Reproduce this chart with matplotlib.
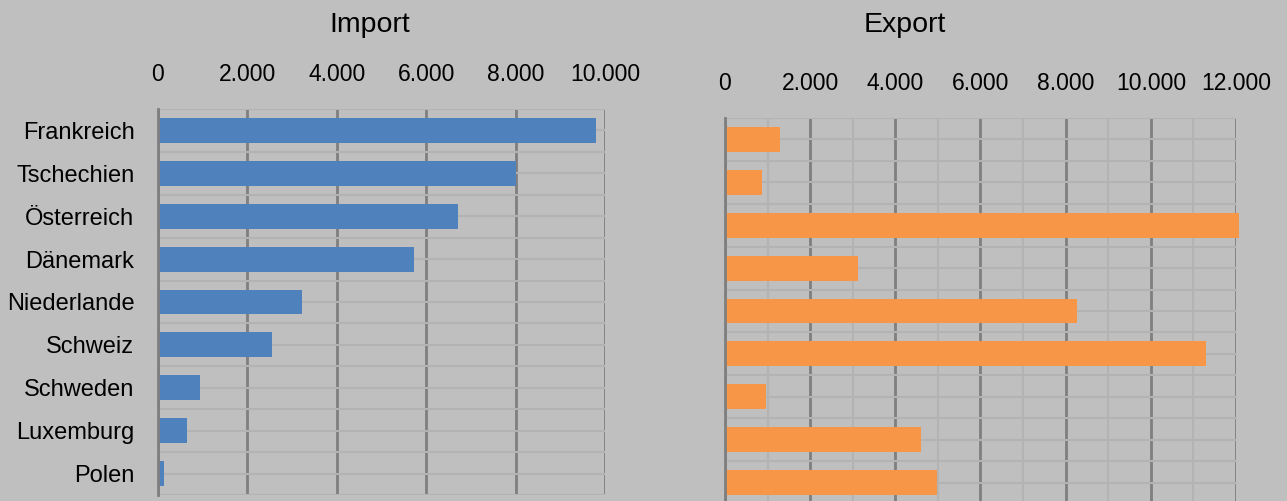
import matplotlib
matplotlib.use('Agg')
from matplotlib import pyplot as plt
from matplotlib.ticker import FuncFormatter, MultipleLocator

# Handelsvolumen je Land
laender = ['Frankreich', 'Tschechien', 'Österreich', 'Dänemark', 'Niederlande',
           'Schweiz', 'Schweden', 'Luxemburg', 'Polen']
import_werte = [9800, 8000, 6720, 5720, 3220, 2550, 950, 640, 130]
export_werte = [1290, 880, 12060, 3120, 8260, 11290, 970, 4610, 4970]

hintergrund = '#bfbfbf'
gitter_dunkel = '#7f7f7f'
gitter_hell = '#b3b3b3'

plt.rcParams['font.family'] = ['Liberation Sans', 'DejaVu Sans']


def tausender(x, pos):
    # deutsches Tausendertrennzeichen
    return f'{int(x):,}'.replace(',', '.')


def panel(ax, werte, farbe, xmax, minor_x):
    y = list(range(len(laender)))
    ax.set_facecolor(hintergrund)
    # Balken duerfen leicht ueber den Rand hinausragen
    ax.barh(y, werte, height=0.58, color=farbe, zorder=3, clip_on=False)
    ax.set_xlim(0, xmax)
    ax.set_ylim(len(laender) - 0.5, -0.5)
    ax.xaxis.set_major_locator(MultipleLocator(2000))
    ax.xaxis.set_major_formatter(FuncFormatter(tausender))
    ax.xaxis.tick_top()
    ax.set_yticks(y)
    ax.set_yticks([i - 0.5 for i in range(len(laender) + 1)], minor=True)
    ax.tick_params(axis='x', length=0, pad=16.5, labelsize=16.5)
    ax.tick_params(axis='y', which='both', length=0, pad=17, labelsize=17)
    for s in ['top', 'right', 'bottom']:
        ax.spines[s].set_visible(False)
    ax.spines['left'].set_color(gitter_dunkel)
    ax.spines['left'].set_linewidth(2)
    ax.spines['left'].set_zorder(4)
    ax.grid(axis='y', which='both', color=gitter_hell, linewidth=1.5, zorder=1)
    ax.grid(axis='x', which='major', color=gitter_dunkel, linewidth=2, zorder=2)
    if minor_x:
        ax.xaxis.set_minor_locator(MultipleLocator(1000))
        ax.tick_params(axis='x', which='minor', length=0)
        ax.grid(axis='x', which='minor', color=gitter_hell, linewidth=1.5, zorder=1)


fig = plt.figure(figsize=(12.87, 5.01), dpi=100, facecolor=hintergrund)

ax1 = fig.add_axes([158 / 1287, 1 - 495 / 501, 447 / 1287, 386 / 501])
panel(ax1, import_werte, '#4f81bd', 10000, False)
ax1.set_yticklabels(laender)

ax2 = fig.add_axes([725 / 1287, 1 - 504 / 501, 511 / 1287, 386 / 501])
panel(ax2, export_werte, '#f79646', 12000, True)
ax2.set_yticklabels([])

fig.text(370 / 1287, 1 - 25 / 501, 'Import', ha='center', va='center', fontsize=20.5)
fig.text(905 / 1287, 1 - 25 / 501, 'Export', ha='center', va='center', fontsize=20.5)

fig.savefig('out.png', dpi=100, facecolor=hintergrund)
